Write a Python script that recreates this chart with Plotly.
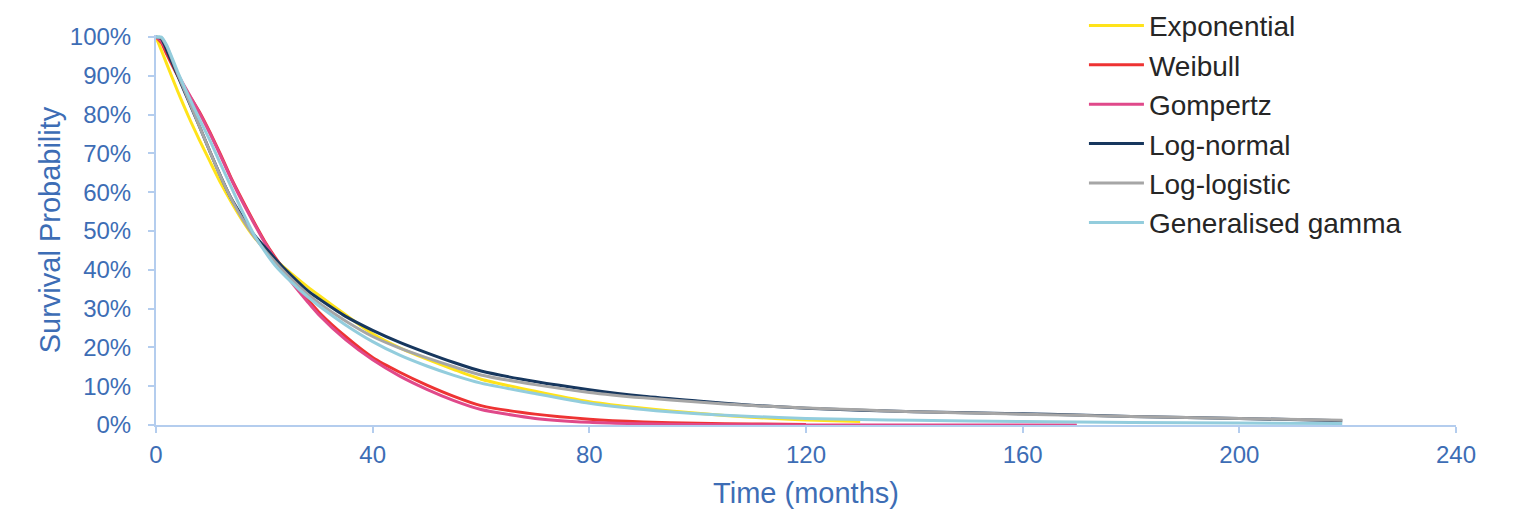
import plotly.graph_objects as go

# Time points (months)
months = [0, 1, 2, 4, 6, 8, 10, 12, 14, 16, 18, 20, 22, 25, 28, 30, 35, 40, 45, 50,
          55, 60, 70, 80, 90, 100, 110, 120, 130, 140, 160, 170, 180, 200, 219]

# Survival probabilities (%); None = curve not drawn
exponential = [100, 96.5, 93, 86, 79.5, 73.5, 67.8, 62.2, 57.2, 52.6, 48.6, 45.5, 42.7, 39, 35.6,
               33.5, 28.4, 23.5, 19.9, 17, 14.3, 11.8, 8.7, 6.0, 4.3, 3.0, 2.0, 1.3, 0.9,
               None, None, None, None, None, None]
weibull = [100, 98.5, 95.5, 90, 85.3, 80.7, 75.3, 69.5, 63.3, 57.8, 52.5, 47.5, 43.2, 37.5, 32.4,
           29.2, 22.8, 17.4, 13.6, 10.3, 7.4, 5.0, 2.8, 1.5, 0.8, 0.45, 0.25, 0.15,
           None, None, None, None, None, None, None]
gompertz = [100, 99, 96.5, 90.5, 85.5, 80.5, 75, 69.1, 63, 57.4, 52.2, 47.2, 42.8, 36.8, 31.7,
            28.5, 22, 16.8, 12.6, 9.2, 6.3, 4.0, 1.7, 0.7, 0.3, 0.12, 0.05, 0.02, 0.01, 0.0,
            0.0, 0.0, None, None, None]
log_normal = [100, 99.5, 96.5, 90, 83.5, 77, 70.3, 63.9, 58.1, 53.5, 49.2, 46, 42.8, 38.5, 34.6,
              32.6, 28, 24.4, 21.3, 18.6, 16.1, 13.9, 11.2, 9.1, 7.4, 6.2, 5.1, 4.3, 3.8, 3.4,
              2.9, 2.6, 2.2, 1.7, 1.1]
log_logistic = [100, 99.7, 97.5, 90.5, 83.8, 77, 70.3, 63.8, 58, 53, 48.8, 45.2, 42, 37.6, 33.7,
                31.5, 26.8, 22.8, 19.8, 17.3, 15, 12.9, 10.4, 8.4, 7.0, 5.9, 5.0, 4.4, 3.9, 3.4,
                2.8, 2.5, 2.2, 1.7, 1.2]
gen_gamma = [100, 100, 97.8, 91, 84.8, 78.9, 73.2, 67, 61, 54.9, 49.3, 44.9, 41.1, 36.8, 33,
             30.8, 25.8, 21.5, 18, 15.2, 12.8, 10.8, 8.1, 5.6, 4.0, 2.9, 2.2, 1.7, 1.4, 1.2,
             0.9, 0.75, 0.65, 0.5, 0.4]

series_names = ["Exponential", "Weibull", "Gompertz", "Log-normal", "Log-logistic", "Generalised gamma"]
series_values = [exponential, weibull, gompertz, log_normal, log_logistic, gen_gamma]
series_colors = ["#FFE31A", "#EE3333", "#E0498A", "#17375E", "#A6A6A6", "#93CDDD"]

x_ticks = [0, 40, 80, 120, 160, 200, 240]
y_ticks = [0, 0.1, 0.2, 0.3, 0.4, 0.5, 0.6, 0.7, 0.8, 0.9, 1.0]
y_tick_labels = ["0%", "10%", "20%", "30%", "40%", "50%", "60%", "70%", "80%", "90%", "100%"]

FONT = "Arial, Liberation Sans, sans-serif"
BLUE_TXT = "#3D6DB5"
AXIS_COL = "#B4CDEE"

fig = go.Figure()
for i, (name, vals, col) in enumerate(zip(series_names, series_values, series_colors)):
    fig.add_trace(go.Scatter(
        x=months,
        y=[None if v is None else v / 100 for v in vals],
        mode="lines",
        name=name,
        legendgroup=f"g{i}",
        line=dict(color=col, width=3, shape="spline", smoothing=0.6),
        connectgaps=False,
    ))

fig.update_layout(
    width=1522, height=520,
    margin=dict(l=148, r=74, t=27, b=103, autoexpand=False),
    paper_bgcolor="white", plot_bgcolor="white",
    font=dict(family=FONT),
    showlegend=True,
    legend=dict(
        x=0.7138, xanchor="left", y=1.088, yanchor="top",
        font=dict(size=28, color="#262626", family=FONT),
        bgcolor="rgba(0,0,0,0)", borderwidth=0,
        tracegroupgap=0, itemwidth=55,
    ),
    xaxis=dict(
        range=[0, 240], tickvals=x_ticks, ticktext=[str(v) for v in x_ticks],
        showgrid=False, zeroline=False, automargin=False,
        showline=True, linecolor=AXIS_COL, linewidth=2,
        ticks="outside", ticklen=6, tickwidth=1.5, tickcolor=AXIS_COL,
        tickfont=dict(size=24, color=BLUE_TXT, family=FONT),
        ticklabelstandoff=1,
        title=dict(text="Time (months)", font=dict(size=29, color=BLUE_TXT, family=FONT), standoff=16),
    ),
    yaxis=dict(
        range=[0, 1.005], tickvals=y_ticks, ticktext=y_tick_labels,
        showgrid=False, zeroline=False, automargin=False,
        showline=True, linecolor=AXIS_COL, linewidth=2,
        ticks="outside", ticklen=6, tickwidth=1.5, tickcolor=AXIS_COL,
        tickfont=dict(size=24, color=BLUE_TXT, family=FONT),
        ticklabelstandoff=12,
        title=dict(text="Survival Probability", font=dict(size=29, color=BLUE_TXT, family=FONT), standoff=1),
    ),
)

fig.write_html("out.html")
